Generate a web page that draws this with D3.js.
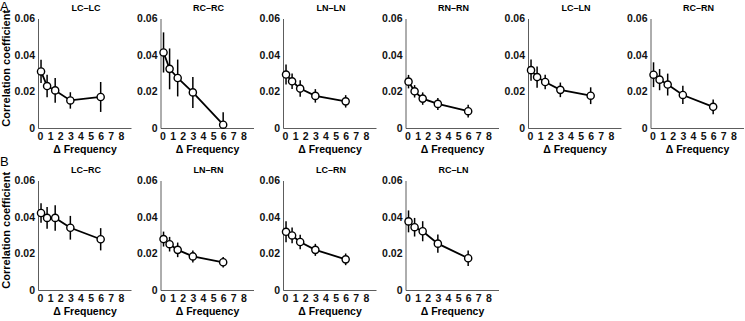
<!DOCTYPE html>
<html>
<head>
<meta charset="utf-8">
<script src="https://cdn.jsdelivr.net/npm/d3@7"></script>
<style>
  body { margin: 0; background: #fff; }
  text { font-family: "Liberation Sans", Arial, sans-serif; }
</style>
</head>
<body>
<div id="chart"></div>
<script>
// frequency differences (same for every panel)
const freq = [0.1, 0.7, 1.5, 3, 6];

const titles = ['LC–LC', 'RC–RC', 'LN–LN', 'RN–RN', 'LC–LN', 'RC–RN', 'LC–RC', 'LN–RN', 'LC–RN', 'RC–LN'];
const panelRow = [0, 0, 0, 0, 0, 0, 1, 1, 1, 1];
const panelCol = [0, 1, 2, 3, 4, 5, 0, 1, 2, 3];

// mean correlation coefficients
const lcLc = [0.031, 0.023, 0.0206, 0.0151, 0.017];
const rcRc = [0.0414, 0.0324, 0.0274, 0.0195, 0.0018];
const lnLn = [0.0293, 0.0256, 0.0216, 0.0176, 0.0146];
const rnRn = [0.0254, 0.0201, 0.0161, 0.0132, 0.0092];
const lcLn = [0.0317, 0.0279, 0.0252, 0.0209, 0.0177];
const rcRn = [0.0292, 0.0265, 0.0238, 0.0181, 0.0116];
const lcRc = [0.0422, 0.0395, 0.0395, 0.0341, 0.0278];
const lnRn = [0.0279, 0.0251, 0.022, 0.0184, 0.0152];
const lcRn = [0.0319, 0.0299, 0.0263, 0.022, 0.0168];
const rcLn = [0.0376, 0.0344, 0.0322, 0.0254, 0.0174];

// error bar half widths
const lcLcErr = [0.0064, 0.0062, 0.0068, 0.0045, 0.0082];
const rcRcErr = [0.011, 0.0112, 0.0101, 0.0085, 0.0068];
const lnLnErr = [0.0055, 0.0042, 0.0045, 0.0037, 0.0034];
const rnRnErr = [0.0037, 0.0034, 0.0034, 0.0033, 0.0035];
const lcLnErr = [0.0058, 0.0058, 0.004, 0.004, 0.0046];
const rcRnErr = [0.0068, 0.0058, 0.006, 0.005, 0.004];
const lcRcErr = [0.0054, 0.006, 0.007, 0.0065, 0.0061];
const lnRnErr = [0.0041, 0.004, 0.004, 0.0033, 0.0029];
const lcRnErr = [0.0058, 0.0043, 0.004, 0.0033, 0.0032];
const rcLnErr = [0.006, 0.0051, 0.0055, 0.005, 0.0043];

const yTicks = [0, 0.02, 0.04, 0.06];
const xTicks = [0, 1, 2, 3, 4, 5, 6, 7, 8];

const means = [lcLc, rcRc, lnLn, rnRn, lcLn, rcRn, lcRc, lnRn, lcRn, rcLn];
const errs = [lcLcErr, rcRcErr, lnLnErr, rnRnErr, lcLnErr, rcRnErr, lcRcErr, lnRnErr, lcRnErr, rcLnErr];

const width = 745;
const height = 321;
const colStep = 122.5;
const rowStep = 162;
const left0 = 38;
const top0 = 18.5;
const pw = 93;
const ph = 109.5;

const svg = d3.select('#chart')
  .append('svg')
  .attr('width', width)
  .attr('height', height);

const x = d3.scaleLinear().domain([-0.2, 9]).range([0, pw]);
const y = d3.scaleLinear().domain([0, 0.06]).range([ph, 0]).clamp(true);

titles.forEach((title, i) => {
  const g = svg.append('g')
    .attr('transform', `translate(${left0 + panelCol[i] * colStep},${top0 + panelRow[i] * rowStep})`);

  const pts = freq.map((f, j) => ({ f, m: means[i][j], e: errs[i][j] }));

  // axes
  g.append('g')
    .attr('transform', `translate(0,${ph})`)
    .call(d3.axisBottom(x).tickValues(xTicks).tickSize(0).tickPadding(5).tickFormat(d3.format('d')))
    .call(a => a.select('.domain').attr('stroke', '#333').attr('stroke-width', 0.8))
    .call(a => a.selectAll('text').attr('font-size', '10.5px').attr('font-weight', 'bold').attr('fill', '#111'));

  g.append('g')
    .call(d3.axisLeft(y).tickValues(yTicks).tickSize(0).tickPadding(3)
      .tickFormat(d => d === 0 ? '0' : d3.format('.2f')(d)))
    .call(a => a.select('.domain').attr('stroke', '#333').attr('stroke-width', 0.8))
    .call(a => a.selectAll('text').attr('font-size', '10.5px').attr('font-weight', 'bold').attr('fill', '#111'));

  // error bars
  g.append('g')
    .selectAll('line')
    .data(pts)
    .join('line')
      .attr('x1', d => x(d.f))
      .attr('x2', d => x(d.f))
      .attr('y1', d => y(d.m - d.e))
      .attr('y2', d => y(d.m + d.e))
      .attr('stroke', '#000')
      .attr('stroke-width', 1.5);

  g.append('path')
    .datum(pts)
    .attr('fill', 'none')
    .attr('stroke', '#000')
    .attr('stroke-width', 1.8)
    .attr('d', d3.line().x(d => x(d.f)).y(d => y(d.m)));

  g.append('g')
    .selectAll('circle')
    .data(pts)
    .join('circle')
      .attr('cx', d => x(d.f))
      .attr('cy', d => y(d.m))
      .attr('r', 3.6)
      .attr('fill', '#fff')
      .attr('stroke', '#000')
      .attr('stroke-width', 1.4);

  g.append('text')
    .attr('x', 48)
    .attr('y', -8)
    .attr('text-anchor', 'middle')
    .attr('font-size', '9px')
    .attr('font-weight', 'bold')
    .text(title);

  g.append('text')
    .attr('x', 47)
    .attr('y', ph + 25)
    .attr('text-anchor', 'middle')
    .attr('font-size', '10.5px')
    .attr('font-weight', 'bold')
    .text('Δ Frequency');

  if (panelCol[i] === 0) {
    g.append('text')
      .attr('transform', `translate(${-28},${ph / 2 - 5}) rotate(-90)`)
      .attr('text-anchor', 'middle')
      .attr('font-size', '11px')
      .attr('font-weight', 'bold')
      .text('Correlation coefficient');
  }
});

svg.append('text').attr('x', 0).attr('y', 11).attr('font-size', '13px').text('A');
svg.append('text').attr('x', 0).attr('y', 166).attr('font-size', '13px').text('B');
</script>
</body>
</html>
